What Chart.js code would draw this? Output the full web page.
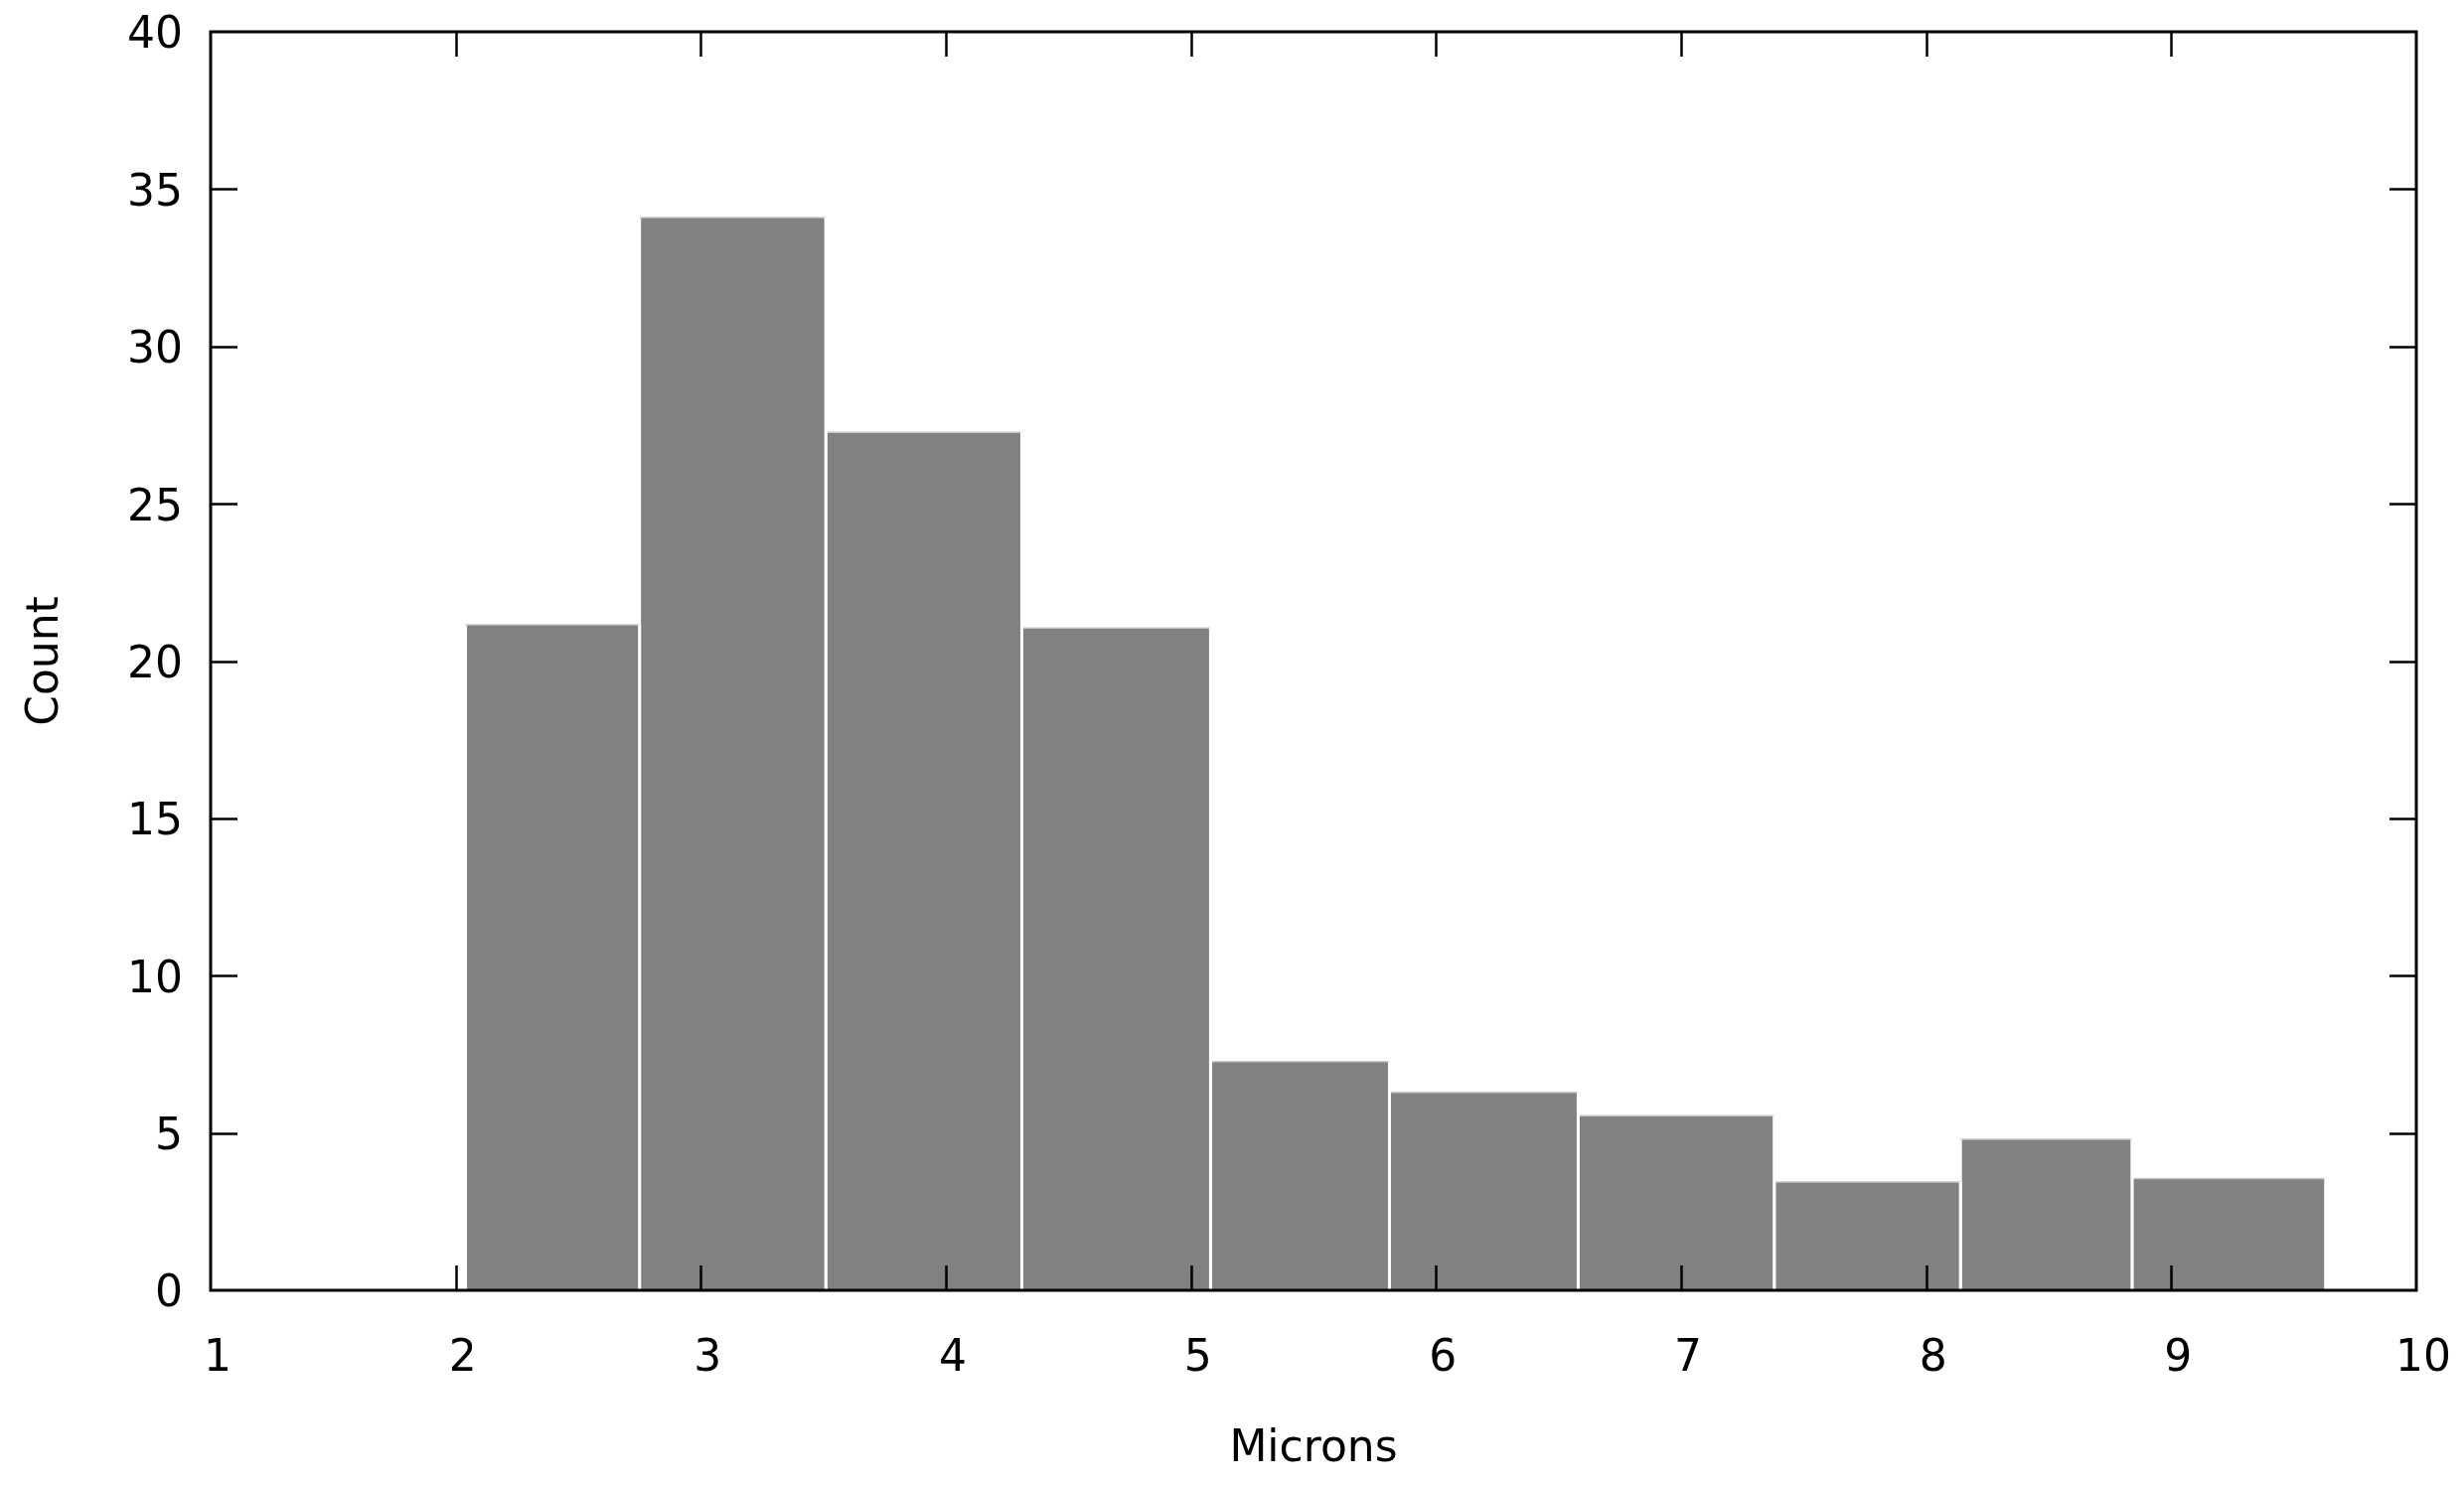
<!DOCTYPE html>
<html>
<head>
<meta charset="utf-8">
<style>
  html, body { margin: 0; padding: 0; background: #ffffff; }
  #wrap { width: 2480px; height: 1495px; }
</style>
<script src="https://cdn.jsdelivr.net/npm/chart.js@4.4.1/dist/chart.umd.min.js"></script>
</head>
<body>
<div id="wrap"><canvas id="c" width="2480" height="1495"></canvas></div>
<script>
// ---- data ----
const binEdges = [2.04, 2.75, 3.51, 4.31, 5.08, 5.81, 6.58, 7.38, 8.14, 8.84, 9.63];
const counts   = [21.15, 34.1, 27.27, 21.05, 7.27, 6.29, 5.55, 3.44, 4.8, 3.55];
const xTicks = [1, 2, 3, 4, 5, 6, 7, 8, 9, 10];
const yTicks = [0, 5, 10, 15, 20, 25, 30, 35, 40];
const xTitle = 'Microns';
const yTitle = 'Count';

const FONT = '"DejaVu Sans", Verdana, sans-serif';
const BAR = '#818181';

// one closed rectangle per bin, drawn as a filled line through the scales
const datasets = counts.map((h, i) => ({
  data: [
    { x: binEdges[i], y: 0 },
    { x: binEdges[i], y: h },
    { x: binEdges[i + 1], y: h },
    { x: binEdges[i + 1], y: 0 }
  ],
  fill: 'origin',
  backgroundColor: BAR,
  borderColor: '#ffffff',
  borderWidth: 3,
  pointRadius: 0,
  tension: 0,
  segment: {
    borderColor: ctx => Math.abs(ctx.p0.x - ctx.p1.x) < 0.5 ? '#ffffff' : '#c6c6c6',
    borderWidth: ctx => Math.abs(ctx.p0.x - ctx.p1.x) < 0.5 ? 3 : 1.5
  }
}));

const frame = {
  id: 'frame',
  afterDatasetsDraw(chart) {
    const { ctx, chartArea: a, scales } = chart;
    ctx.save();
    ctx.strokeStyle = '#000000';
    ctx.lineCap = 'butt';
    ctx.lineWidth = 2.5;
    const xt = 25, yt = 27;
    ctx.beginPath();
    xTicks.forEach(v => {
      const px = Math.round(scales.x.getPixelForValue(v)) + 0.5;
      if (v === xTicks[0] || v === xTicks[xTicks.length - 1]) return;
      ctx.moveTo(px, a.bottom); ctx.lineTo(px, a.bottom - xt);
      ctx.moveTo(px, a.top); ctx.lineTo(px, a.top + xt);
    });
    yTicks.forEach(v => {
      const py = Math.round(scales.y.getPixelForValue(v)) + 0.5;
      if (v === yTicks[0] || v === yTicks[yTicks.length - 1]) return;
      ctx.moveTo(a.left, py); ctx.lineTo(a.left + yt, py);
      ctx.moveTo(a.right, py); ctx.lineTo(a.right - yt, py);
    });
    ctx.stroke();
    ctx.lineWidth = 3;
    ctx.strokeRect(a.left, a.top, a.right - a.left, a.bottom - a.top);
    ctx.restore();
  }
};

function noPad(s) {
  s.paddingTop = 0; s.paddingBottom = 0; s.paddingLeft = 0; s.paddingRight = 0;
}

new Chart(document.getElementById('c'), {
  type: 'line',
  data: { datasets },
  options: {
    responsive: false,
    devicePixelRatio: 1,
    animation: false,
    events: [],
    layout: { padding: { left: 0, right: 48, top: 32, bottom: 0 } },
    plugins: { legend: { display: false }, tooltip: { enabled: false } },
    scales: {
      x: {
        type: 'linear',
        min: 1, max: 10,
        afterBuildTicks: s => { s.ticks = xTicks.map(v => ({ value: v })); },
        afterFit: s => { s.height = 196; noPad(s); },
        grid: { display: false, drawTicks: false },
        border: { display: false },
        ticks: {
          padding: 43, labelOffset: 7, color: '#000000', maxRotation: 0, autoSkip: false,
          font: { family: FONT, size: 44 }
        },
        title: {
          display: true, text: xTitle, color: '#000000',
          font: { family: FONT, size: 44, lineHeight: 1 },
          padding: { top: 0, bottom: 13 }
        }
      },
      y: {
        type: 'linear',
        min: 0, max: 40,
        afterBuildTicks: s => { s.ticks = yTicks.map(v => ({ value: v })); },
        afterFit: s => { s.width = 212; noPad(s); },
        grid: { display: false, drawTicks: false },
        border: { display: false },
        ticks: {
          padding: 28, labelOffset: 5, color: '#000000', autoSkip: false,
          font: { family: FONT, size: 44 }
        },
        title: {
          display: true, text: yTitle, color: '#000000',
          font: { family: FONT, size: 44, lineHeight: 1 },
          padding: { top: 25, bottom: 0 }
        }
      }
    }
  },
  plugins: [frame]
});
</script>
</body>
</html>
